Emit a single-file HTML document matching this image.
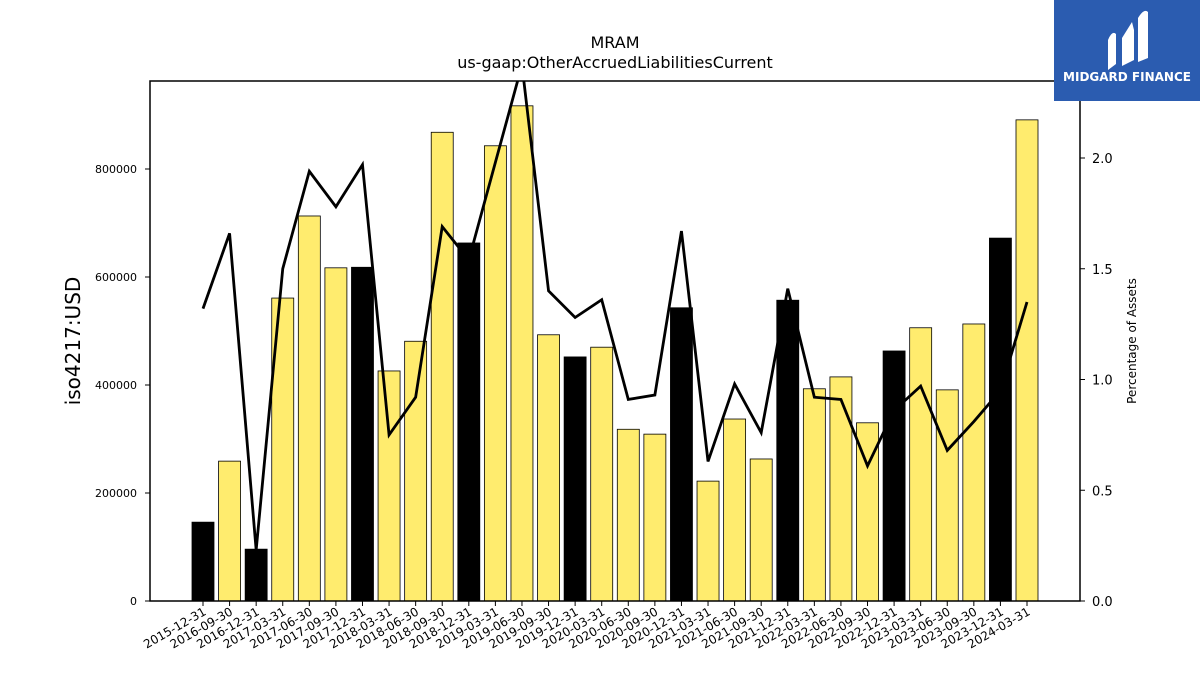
<!DOCTYPE html>
<html><head><meta charset="utf-8"><style>
body{margin:0;background:#fff;width:1200px;height:675px;overflow:hidden;font-family:"Liberation Sans","DejaVu Sans",sans-serif}
</style></head><body>
<svg id="chart" width="1200" height="675" xmlns="http://www.w3.org/2000/svg" font-family="DejaVu Sans, Liberation Sans, sans-serif">
<text x="615" y="48" font-size="16" text-anchor="middle">MRAM</text>
<text x="615" y="68" font-size="16" text-anchor="middle">us-gaap:OtherAccruedLiabilitiesCurrent</text>
<g id="bars"></g>
<g id="line"></g>
<rect x="150" y="81" width="930" height="520" fill="none" stroke="#000" stroke-width="1.5"/>
<g id="yl"></g>
<g id="yr"></g>
<g id="xl"></g>
<text transform="translate(80,341) rotate(-90)" font-size="20" text-anchor="middle">iso4217:USD</text>
<text transform="translate(1136,341) rotate(-90)" font-size="12" text-anchor="middle">Percentage of Assets</text>
<g>
<rect x="1054" y="0" width="146" height="101" fill="#2b5cb0"/>
<path d="M1108 70 L1108 40 Q1112 30 1116 34 L1116 64 Z M1122 66 L1122 38 L1132 22 L1134 30 L1134 60 Z M1138 62 L1138 18 Q1144 8 1148 12 L1148 58 Z" fill="#fff"/>
<text x="1127" y="81" font-size="12" font-weight="bold" fill="#fff" text-anchor="middle">MIDGARD FINANCE</text>
</g>
</svg>
<script>
const categories=["2015-12-31","2016-09-30","2016-12-31","2017-03-31","2017-06-30","2017-09-30","2017-12-31","2018-03-31","2018-06-30","2018-09-30","2018-12-31","2019-03-31","2019-06-30","2019-09-30","2019-12-31","2020-03-31","2020-06-30","2020-09-30","2020-12-31","2021-03-31","2021-06-30","2021-09-30","2021-12-31","2022-03-31","2022-06-30","2022-09-30","2022-12-31","2023-03-31","2023-06-30","2023-09-30","2023-12-31","2024-03-31"];
const barValues=[146000,259000,96000,561000,713000,617000,618000,426000,481000,868000,663000,843000,917000,493000,452000,470000,318000,309000,543000,222000,337000,263000,557000,393000,415000,330000,463000,506000,391000,513000,672000,891000];
const annualFlags=[1,0,1,0,0,0,1,0,0,0,1,0,0,0,1,0,0,0,1,0,0,0,1,0,0,0,1,0,0,0,1,0];
const pctValues=[1.32,1.66,0.23,1.50,1.94,1.78,1.97,0.75,0.92,1.69,1.54,1.98,2.42,1.40,1.28,1.36,0.91,0.93,1.67,0.63,0.98,0.76,1.41,0.92,0.91,0.61,0.86,0.97,0.68,0.81,0.95,1.35];
const leftTicks=[0,200000,400000,600000,800000];
const rightTicks=[0,0.5,1.0,1.5,2.0];
const NS="http://www.w3.org/2000/svg";
const x=i=>203+i*(1027-203)/31;
const yL=v=>601-v/200000*108;
const yR=v=>601-v*221.5;
function mk(t,a,p){const e=document.createElementNS(NS,t);for(const k in a)e.setAttribute(k,a[k]);p.appendChild(e);return e;}
const bars=document.getElementById('bars');
barValues.forEach((v,i)=>{const r=mk('rect',{x:x(i)-11,y:yL(v),width:22,height:601-yL(v),fill:annualFlags[i]?'#000':'#ffec6e',stroke:'#000','stroke-width':0.8},bars);

});
const lg=document.getElementById('line');
mk('clipPath',{id:'cp'},lg).appendChild(Object.assign(document.createElementNS(NS,'rect'),{})).setAttribute('x','150');
const cr=lg.querySelector('clipPath rect');cr.setAttribute('y','81');cr.setAttribute('width','930');cr.setAttribute('height','520');
const pl=mk('polyline',{points:pctValues.map((v,i)=>x(i)+','+yR(v)).join(' '),fill:'none',stroke:'#000','stroke-width':2.8,'clip-path':'url(#cp)'},lg);


const yl=document.getElementById('yl');
leftTicks.forEach(v=>{mk('line',{x1:145,x2:150,y1:yL(v),y2:yL(v),stroke:'#000'},yl);const t=mk('text',{x:137,y:yL(v)+4,'font-size':11,'text-anchor':'end'},yl);t.textContent=v;

});
const yr=document.getElementById('yr');
rightTicks.forEach(v=>{mk('line',{x1:1080,x2:1085,y1:yR(v),y2:yR(v),stroke:'#000'},yr);const t=mk('text',{x:1092,y:yR(v)+5,'font-size':13},yr);t.textContent=v.toFixed(1);

});
const xl=document.getElementById('xl');
categories.forEach((c,i)=>{mk('line',{x1:x(i),x2:x(i),y1:601,y2:606,stroke:'#000'},xl);const t=mk('text',{transform:`translate(${x(i)+4},614) rotate(-30)`,'font-size':12,'text-anchor':'end'},xl);t.textContent=c;

});
</script>
</body></html>
